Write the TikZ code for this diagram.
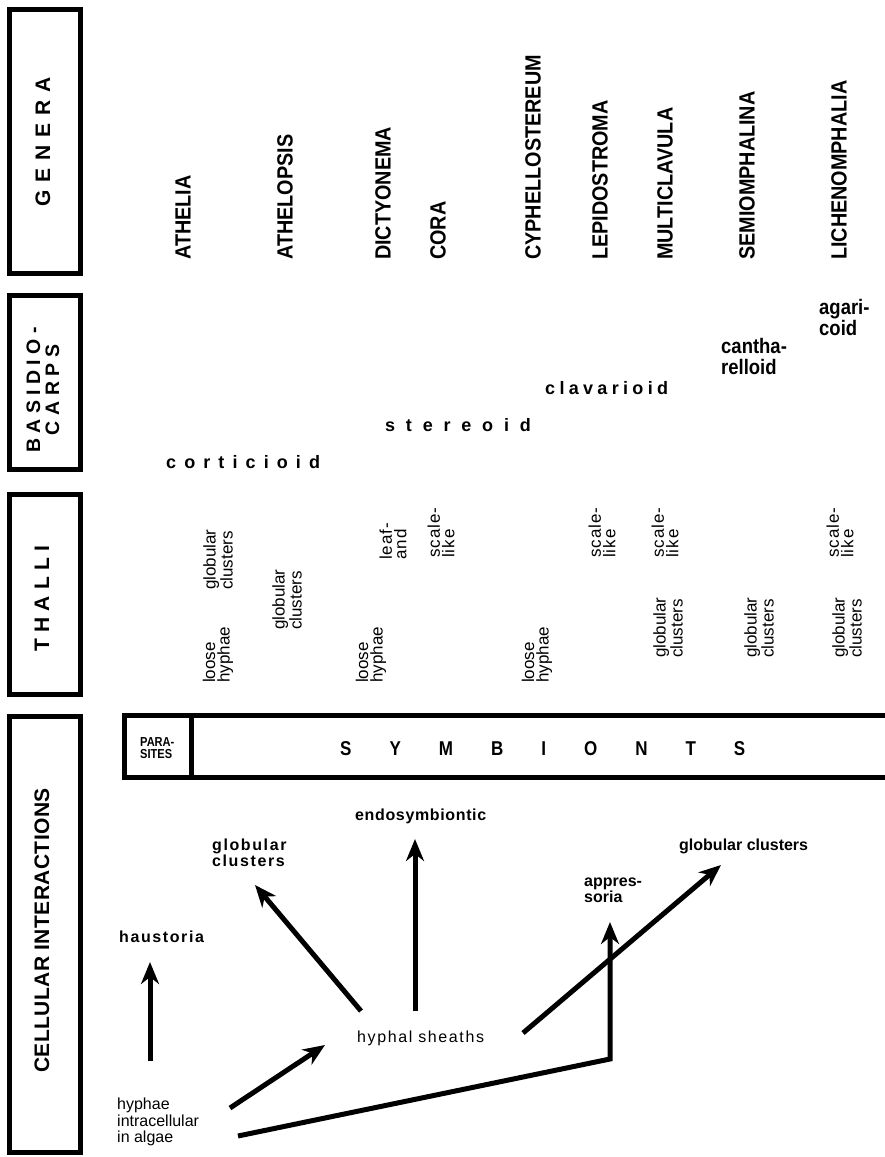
\documentclass[tikz,border=0pt]{standalone}
\usepackage{fontspec}
\setmainfont{Liberation Sans}
\usetikzlibrary{arrows.meta}
\newcommand\fsz[2]{\fontsize{#1}{#2}\selectfont}
\begin{document}
\begin{tikzpicture}[x=1pt,y=-1pt,
  frame/.style={draw, line width=5pt},
  arr/.style={line width=5pt, -{Stealth[length=22pt,width=18pt,inset=7pt]}},
  con/.style={line width=5pt},
  side/.style={rotate=90, inner sep=0pt, font=\fsz{21}{19}\bfseries},
  genus/.style={rotate=90, anchor=west, inner sep=0pt, font=\fsz{22}{22}\bfseries\addfontfeature{FakeStretch=0.9}},
  thal/.style={rotate=90, anchor=west, inner sep=0pt, align=left, font=\fsz{17}{14.5}},
  thals/.style={thal, font=\fsz{17}{14.5}\addfontfeature{LetterSpace=6}},
  carp/.style={anchor=west, inner sep=0pt, font=\fsz{18}{18}\bfseries},
  carpc/.style={anchor=west, inner sep=0pt, align=left, font=\fsz{21}{21}\bfseries\addfontfeature{FakeStretch=0.88}},
  cell/.style={anchor=west, inner sep=0pt, align=left, font=\fsz{16}{16}\bfseries},
  plain/.style={anchor=west, inner sep=0pt, align=left, font=\fsz{16}{16.5}}
]
\useasboundingbox (0,0) rectangle (884,1157);
% left category boxes
\draw[frame] (9.5,9.5) rectangle (80.5,273.5);
\draw[frame] (9.5,295.5) rectangle (80.5,469.5);
\draw[frame] (9.5,494.5) rectangle (80.5,694.5);
\draw[frame] (9.5,716.5) rectangle (80.5,1152.5);
\node[side, anchor=west, font=\fsz{21}{21}\bfseries\addfontfeature{LetterSpace=38}] (genera) at (43,207) {GENERA};
\node[side, align=center, font=\fsz{19.5}{19}\bfseries\addfontfeature{LetterSpace=28}] (basidio) at (43,390) {BASIDIO-\\CARPS};
\node[side, anchor=west, font=\fsz{21}{21}\bfseries\addfontfeature{LetterSpace=30}] (thalli) at (42,652) {THALLI};
\node[side, anchor=west, font=\fsz{21}{21}\bfseries\addfontfeature{LetterSpace=2}] (cellular) at (42,1073) {CELLULAR INTERACTIONS};
% genera
\node[genus] (athelia) at (183,260) {ATHELIA};
\node[genus] (athelopsis) at (285,260) {ATHELOPSIS};
\node[genus] (dictyonema) at (383,260) {DICTYONEMA};
\node[genus] (cora) at (438,260) {CORA};
\node[genus] (cyphello) at (533,260) {CYPHELLOSTEREUM};
\node[genus] (lepido) at (600,260) {LEPIDOSTROMA};
\node[genus] (multi) at (665,260) {MULTICLAVULA};
\node[genus] (semi) at (747,260) {SEMIOMPHALINA};
\node[genus] (licheno) at (839,260) {LICHENOMPHALIA};
% basidiocarps
\node[carp, font=\fsz{18}{18}\bfseries\addfontfeature{LetterSpace=45}] (corticioid) at (166,462) {corticioid};
\node[carp, font=\fsz{18}{18}\bfseries\addfontfeature{LetterSpace=60}] (stereoid) at (385,425) {stereoid};
\node[carp, font=\fsz{18}{18}\bfseries\addfontfeature{LetterSpace=24}] (clavarioid) at (545,388) {clavarioid};
\node[carpc] (cantharelloid) at (721,356) {cantha-\\relloid};
\node[carpc] (agaricoid) at (819,317) {agari-\\coid};
% thalli
\node[thal] (t1) at (218,683) {loose\\hyphae};
\node[thal] (t2) at (218,590) {globular\\clusters};
\node[thal] (t3) at (287,630) {globular\\clusters};
\node[thal] (t4) at (371,683) {loose\\hyphae};
\node[thals] (t5) at (393,560) {leaf-\\and};
\node[thals] (t6) at (441,558) {scale-\\like};
\node[thal] (t7) at (537,683) {loose\\hyphae};
\node[thals] (t8) at (602,558) {scale-\\like};
\node[thals] (t9) at (665,558) {scale-\\like};
\node[thal] (t10) at (668,658) {globular\\clusters};
\node[thal] (t11) at (759,658) {globular\\clusters};
\node[thals] (t12) at (840,558) {scale-\\like};
\node[thal] (t13) at (847,658) {globular\\clusters};
% parasites / symbionts box
\draw[frame] (124.5,715.5) rectangle (900,777.5);
\draw[con] (191,715.5) -- (191,777.5);
\node[anchor=west, inner sep=0pt, align=left, font=\fsz{13}{11.5}\bfseries\addfontfeature{FakeStretch=0.85}] (parasites) at (140,748) {PARA-\\SITES};
\node[anchor=west, inner sep=0pt, font=\fsz{20}{20}\bfseries\addfontfeature{FakeStretch=0.85,LetterSpace=190}] (symbionts) at (340,749) {SYMBIONTS};
% cellular interaction labels
\node[cell, font=\fsz{16}{16}\bfseries\addfontfeature{LetterSpace=10}] (haustoria) at (119,937) {haustoria};
\node[cell, font=\fsz{16}{16}\bfseries\addfontfeature{LetterSpace=10}] (globL) at (212,853) {globular\\clusters};
\node[cell, font=\fsz{16}{16}\bfseries\addfontfeature{LetterSpace=4}] (endo) at (355,816) {endosymbiontic};
\node[cell] (appres) at (584,890) {appres-\\soria};
\node[cell] (globR) at (679,846) {globular clusters};
\node[plain, font=\fsz{16}{16}\addfontfeature{LetterSpace=10}] (sheaths) at (357,1038) {hyphal sheaths};
\node[plain] (intra) at (117,1122) {hyphae\\intracellular\\in algae};
% connector end points
\coordinate (hauA) at (150,1061);
\coordinate (hauB) at (150,962);
\coordinate (inA) at (230,1108);
\coordinate (inB) at (325,1045);
\coordinate (inC) at (238,1136);
\coordinate (corner) at (610,1059);
\coordinate (appB) at (610,922);
\coordinate (shL) at (361,1011);
\coordinate (glLB) at (255,885);
\coordinate (shM) at (415,1011);
\coordinate (endB) at (415,839);
\coordinate (shR) at (523,1033);
\coordinate (glRB) at (721,865);
% arrows
\draw[arr] (hauA) -- (hauB);
\draw[arr] (inA) -- (inB);
\draw[arr, line join=miter] (inC) -- (corner) -- (appB);
\draw[arr] (shL) -- (glLB);
\draw[arr] (shM) -- (endB);
\draw[arr] (shR) -- (glRB);
\end{tikzpicture}
\end{document}
